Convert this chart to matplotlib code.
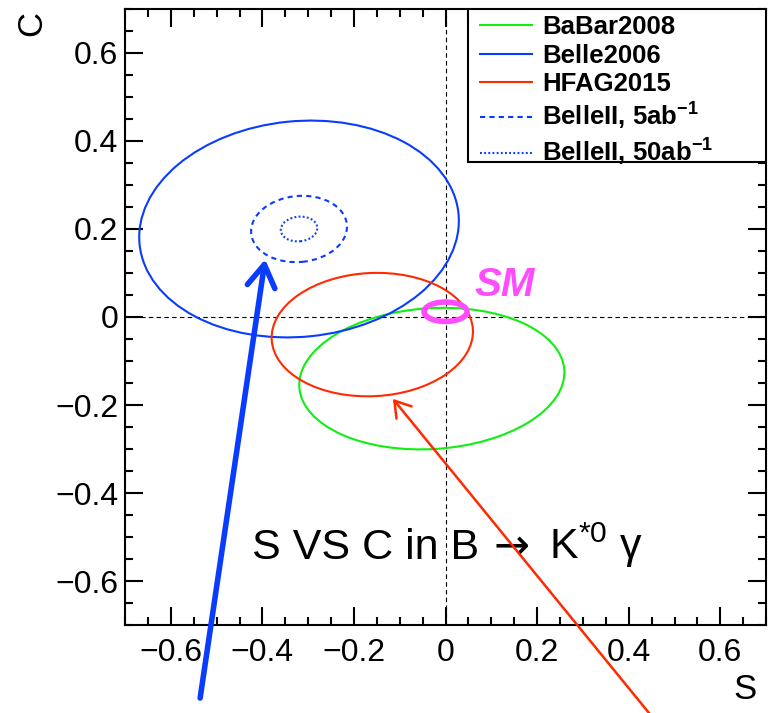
import numpy as np
import matplotlib
matplotlib.use('Agg')
import matplotlib.pyplot as plt
from matplotlib.patches import Ellipse, Rectangle
from matplotlib.lines import Line2D
from matplotlib.ticker import MultipleLocator

plt.rcParams['font.family'] = ['Liberation Sans', 'DejaVu Sans']
plt.rcParams['mathtext.fontset'] = 'custom'
plt.rcParams['mathtext.rm'] = 'Liberation Sans'
plt.rcParams['mathtext.it'] = 'Liberation Sans:italic'
plt.rcParams['mathtext.bf'] = 'Liberation Sans:bold'

# measurements: central values and errors of S and C
labels = ['BaBar2008', 'Belle2006', 'HFAG2015',
          r'BelleII, 5ab$^{\mathbf{-1}}$', r'BelleII, 50ab$^{\mathbf{-1}}$']
S_val = [-0.03, -0.32, -0.16, -0.32, -0.32]
C_val = [-0.14, 0.20, -0.04, 0.20, 0.20]
S_err = [0.29, 0.35, 0.22, 0.105, 0.04]
C_err = [0.16, 0.245, 0.14, 0.075, 0.028]
tilt = [4, 6, 3, 6, 6]
colors = ['#11ee11', '#0a3cff', '#ff2a00', '#0a3cff', '#0a3cff']
styles = ['-', '-', '-', (0, (2.5, 2)), (0, (0.9, 1.1))]

# standard model point
sm_S, sm_C = 0.0, 0.012
sm_dS, sm_dC = 0.047, 0.022

fig = plt.figure(figsize=(7.69, 7.13), dpi=100)
ax = fig.add_axes([0.1626, 0.1234, 0.8336, 0.8640])
ax.set_xlim(-0.7, 0.7)
ax.set_ylim(-0.7, 0.7)

ax.axhline(0, color='k', lw=0.8, ls=(0, (4, 3)), zorder=1)
ax.axvline(0, color='k', lw=0.8, ls=(0, (4, 3)), zorder=1)

for s, c, ds, dc, t, col, ls in zip(S_val, C_val, S_err, C_err, tilt, colors, styles):
    ax.add_patch(Ellipse((s, c), 2 * ds, 2 * dc, angle=t, fill=False,
                         edgecolor=col, lw=1.5, ls=ls, zorder=2))

ax.add_patch(Ellipse((sm_S, sm_C), 2 * sm_dS, 2 * sm_dC, fill=False,
                     edgecolor='#ff4cff', lw=4, zorder=3))
ax.text(0.063, 0.048, 'SM', color='#ff4cff', fontsize=29,
        fontweight='bold', fontstyle='italic')

# title, split so the arrow can use a font with a full-size glyph
ax.text(-0.4227, -0.549, 'S VS C in B', fontsize=31, va='baseline', ha='left')
ax.text(0.105, -0.549, '\u2192', fontsize=31, va='baseline', ha='left',
        family='DejaVu Sans')
ax.text(0.227, -0.549, 'K$^{*0}$ \u03b3', fontsize=31, va='baseline', ha='left')

# arrows pointing to the Belle II projection and the HFAG average
ax.annotate('', xy=(-0.394, 0.131), xytext=(-0.536, -0.866),
            annotation_clip=False,
            arrowprops=dict(arrowstyle='->,head_length=0.8,head_width=0.5',
                            mutation_scale=20, color='#0a3cff', lw=4,
                            shrinkA=0, shrinkB=0))
ax.annotate('', xy=(-0.115, -0.186), xytext=(0.46, -0.92),
            annotation_clip=False,
            arrowprops=dict(arrowstyle='->,head_length=0.55,head_width=0.35',
                            mutation_scale=20, color='#ff2a00', lw=1.8,
                            shrinkA=0, shrinkB=0))

ax.xaxis.set_major_locator(MultipleLocator(0.2))
ax.xaxis.set_minor_locator(MultipleLocator(0.05))
ax.yaxis.set_major_locator(MultipleLocator(0.2))
ax.yaxis.set_minor_locator(MultipleLocator(0.05))
ax.tick_params(which='both', direction='in', top=True, right=True, width=1.5,
               labelsize=23)
ax.tick_params(which='major', length=13)
ax.tick_params(which='minor', length=6)
ax.tick_params(axis='x', pad=9)
ax.tick_params(axis='y', pad=5)
fmt = lambda v, p: '0' if abs(v) < 1e-9 else f'{v:.1f}'.replace('-', '\u2212')
ax.xaxis.set_major_formatter(fmt)
ax.yaxis.set_major_formatter(fmt)
for sp in ax.spines.values():
    sp.set_linewidth(1.5)

ax.set_xlabel('S', fontsize=25, loc='right')
ax.xaxis.set_label_coords(0.985, -0.078)
ax.set_ylabel('C', fontsize=25, loc='top')
ax.yaxis.set_label_coords(-0.12, 0.997)

# legend box (ROOT style, wider than its entries)
ax.add_patch(Rectangle((0.535, 0.752), 0.465, 0.248, transform=ax.transAxes,
                       facecolor='white', edgecolor='k', lw=1.5, zorder=4))
handles = [Line2D([], [], color=col, lw=1.5, ls=ls) for col, ls in zip(colors, styles)]
leg = ax.legend(handles, labels, loc='upper left',
                bbox_to_anchor=(0.554, 0.99), frameon=False,
                borderaxespad=0, borderpad=0,
                prop={'weight': 'bold', 'size': 18.5}, handlelength=2.0,
                handletextpad=0.4, labelspacing=0.18)
leg.set_zorder(5)

fig.savefig('out.png', dpi=100)
